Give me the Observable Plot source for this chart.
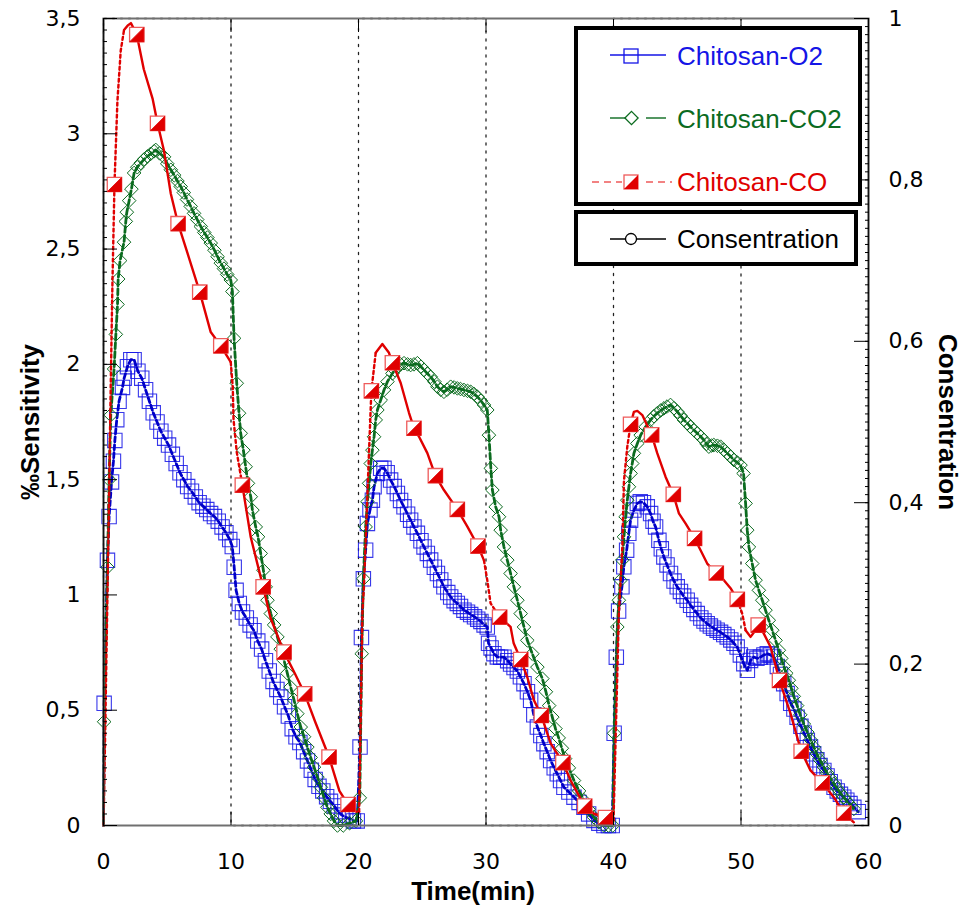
<!DOCTYPE html>
<html><head><meta charset="utf-8">
<script src="https://cdn.jsdelivr.net/npm/d3@7"></script>
<script src="https://cdn.jsdelivr.net/npm/@observablehq/plot@0.6"></script>
<style>
body{margin:0;background:#fff;}
#wrap{position:relative;width:970px;height:905px;overflow:hidden;}
#overlay{position:absolute;left:0;top:0;pointer-events:none;}
</style></head>
<body><div id="wrap"></div>
<script>
// ---------------- data ----------------
const xTickValues = [0, 10, 20, 30, 40, 50, 60];
const sensTickValues = [0, 0.5, 1, 1.5, 2, 2.5, 3, 3.5];
const concTickValues = [0, 0.2, 0.4, 0.6, 0.8, 1];
const seriesNames = ["Chitosan-O2", "Chitosan-CO2", "Chitosan-CO", "Consentration"];

// Concentration square wave (right axis)
const concTime  = [0, 0, 10, 10, 20, 20, 30, 30, 40, 40, 50, 50, 60];
const concValue = [0, 1, 1, 0, 0, 1, 1, 0, 0, 1, 1, 0, 0];

// Chitosan-O2 [time(min), sensitivity]
const o2Cycle1 = [[0,0],[0.05,0.53],[0.31,1.15],[0.44,1.34],[0.63,1.49],[0.78,1.58],[0.89,1.67],[1.04,1.76],[1.22,1.84],[1.49,1.9],[1.62,1.94],[1.88,1.99],[2.14,2.02],[2.4,2.02],[2.7,1.97],[3.0,1.94],[3.3,1.89],[3.6,1.84],[3.9,1.79],[4.2,1.75],[4.5,1.71],[4.8,1.68],[5.1,1.65],[5.4,1.61],[5.7,1.57],[6.0,1.53],[6.3,1.5],[6.6,1.47],[6.9,1.45],[7.2,1.425],[7.5,1.4],[7.8,1.385],[8.1,1.37],[8.4,1.353],[8.7,1.34],[9.0,1.32],[9.3,1.295],[9.6,1.27],[9.9,1.24],[10.1,1.21],[10.25,1.12],[10.4,1.02],[10.65,0.963],[10.9,0.926],[11.2,0.9],[11.5,0.87],[11.8,0.845],[12.1,0.8],[12.4,0.765],[12.7,0.715],[13.0,0.67],[13.3,0.625],[13.6,0.59],[13.9,0.557],[14.2,0.515],[14.5,0.475],[14.8,0.42],[15.1,0.385],[15.4,0.36],[15.7,0.32],[16.0,0.28],[16.3,0.24],[16.6,0.2],[16.9,0.17],[17.2,0.15],[17.5,0.125],[17.8,0.105],[18.1,0.085],[18.4,0.06],[18.7,0.045],[19.0,0.035],[19.3,0.03],[19.6,0.02],[19.9,0.02]];
const o2Cycle2 = [[20.12,0.34],[20.23,0.815],[20.38,1.07],[20.56,1.194],[20.7,1.31],[20.9,1.368],[21.09,1.411],[21.22,1.469],[21.48,1.527],[21.74,1.549],[22.0,1.549],[22.25,1.53],[22.52,1.498],[22.8,1.47],[23.05,1.44],[23.3,1.41],[23.57,1.382],[23.85,1.35],[24.09,1.324],[24.35,1.295],[24.62,1.267],[24.9,1.235],[25.14,1.208],[25.4,1.18],[25.66,1.151],[25.95,1.12],[26.19,1.093],[26.45,1.065],[26.7,1.035],[27.0,1.01],[27.23,0.991],[27.5,0.975],[27.75,0.963],[28.0,0.95],[28.27,0.934],[28.55,0.925],[28.8,0.915],[29.1,0.905],[29.35,0.895],[29.6,0.885],[29.85,0.87],[30.1,0.861],[30.2,0.79],[30.4,0.77],[30.62,0.745],[30.89,0.731],[31.15,0.73],[31.41,0.73],[31.7,0.715],[31.93,0.7],[32.2,0.685],[32.46,0.67],[32.7,0.645],[32.98,0.615],[33.25,0.58],[33.5,0.543],[33.75,0.48],[34.03,0.427],[34.3,0.39],[34.54,0.355],[34.8,0.32],[35.07,0.282],[35.35,0.25],[35.59,0.224],[35.85,0.195],[36.11,0.166],[36.5,0.145],[36.9,0.123],[37.3,0.1],[37.68,0.079],[38.05,0.05],[38.46,0.022],[38.85,0.01],[39.25,0.0],[39.6,0.0],[39.9,0.0]];
const o2Cycle3 = [[40.05,0.4],[40.22,0.73],[40.4,0.93],[40.66,1.035],[40.81,1.122],[41.03,1.194],[41.2,1.267],[41.34,1.324],[41.6,1.368],[41.87,1.397],[42.1,1.404],[42.35,1.4],[42.65,1.382],[42.91,1.353],[43.1,1.32],[43.3,1.295],[43.56,1.237],[43.75,1.2],[43.95,1.165],[44.2,1.13],[44.47,1.093],[44.75,1.06],[45.0,1.035],[45.25,1.015],[45.5,0.995],[45.78,0.977],[46.05,0.955],[46.3,0.937],[46.57,0.919],[46.85,0.9],[47.1,0.887],[47.35,0.875],[47.6,0.865],[47.85,0.856],[48.13,0.847],[48.4,0.838],[48.65,0.828],[48.92,0.818],[49.2,0.805],[49.45,0.79],[49.7,0.774],[49.95,0.74],[50.22,0.702],[50.5,0.673],[50.75,0.716],[51.0,0.731],[51.25,0.725],[51.52,0.73],[51.8,0.74],[52.06,0.745],[52.3,0.74],[52.56,0.731],[52.85,0.69],[53.1,0.655],[53.35,0.615],[53.62,0.572],[53.9,0.53],[54.15,0.505],[54.4,0.47],[54.7,0.43],[54.95,0.4],[55.2,0.369],[55.45,0.34],[55.7,0.311],[55.95,0.285],[56.2,0.26],[56.5,0.239],[56.75,0.215],[57.0,0.19],[57.3,0.166],[57.55,0.15],[57.8,0.135],[58.06,0.123],[58.3,0.11],[58.55,0.095],[58.85,0.079],[59.2,0.06]];

// Chitosan-CO2
const co2Cycle1 = [[0,0],[0.05,0.45],[0.31,1.12],[0.44,1.5],[0.57,1.78],[0.83,1.98],[0.97,2.13],[1.1,2.26],[1.15,2.37],[1.3,2.45],[1.61,2.53],[1.75,2.62],[1.83,2.66],[2.01,2.71],[2.19,2.76],[2.4,2.83],[2.65,2.855],[2.92,2.873],[3.2,2.89],[3.45,2.902],[3.7,2.913],[3.97,2.924],[4.1,2.93],[4.4,2.915],[4.75,2.9],[5.0,2.87],[5.28,2.844],[5.55,2.82],[5.8,2.795],[6.06,2.771],[6.3,2.745],[6.55,2.715],[6.84,2.685],[7.1,2.655],[7.35,2.628],[7.63,2.598],[7.9,2.572],[8.15,2.55],[8.41,2.526],[8.7,2.495],[8.95,2.467],[9.2,2.439],[9.45,2.415],[9.7,2.39],[9.98,2.366],[10.11,2.316],[10.24,2.113],[10.45,1.918],[10.63,1.788],[10.76,1.701],[10.97,1.628],[11.15,1.556],[11.33,1.484],[11.55,1.426],[11.68,1.368],[11.94,1.295],[12.12,1.252],[12.33,1.18],[12.54,1.107],[12.72,1.035],[12.86,0.977],[13.12,0.919],[13.38,0.87],[13.64,0.818],[13.9,0.765],[14.16,0.716],[14.42,0.66],[14.68,0.6],[14.94,0.545],[15.2,0.485],[15.47,0.427],[15.73,0.385],[15.99,0.34],[16.25,0.295],[16.51,0.253],[16.78,0.21],[17.04,0.166],[17.3,0.12],[17.56,0.079],[17.82,0.05],[18.08,0.02],[18.35,0.0],[18.8,0.0],[19.3,0.01],[19.8,0.02]];
const co2Cycle2 = [[20.1,0.12],[20.25,0.745],[20.38,1.07],[20.56,1.295],[20.7,1.404],[20.83,1.484],[20.96,1.57],[21.09,1.628],[21.22,1.686],[21.35,1.759],[21.48,1.802],[21.74,1.845],[22.0,1.889],[22.27,1.925],[22.66,1.961],[22.85,1.975],[23.05,1.99],[23.3,2.0],[23.57,2.005],[23.85,2.0],[24.09,1.997],[24.35,2.0],[24.62,2.005],[24.9,1.99],[25.14,1.976],[25.4,1.96],[25.66,1.946],[25.95,1.925],[26.19,1.903],[26.45,1.89],[26.7,1.881],[26.95,1.89],[27.23,1.903],[27.5,1.9],[27.75,1.896],[28.0,1.893],[28.27,1.889],[28.55,1.885],[28.8,1.881],[29.05,1.872],[29.32,1.86],[29.6,1.842],[29.84,1.824],[30.1,1.802],[30.23,1.693],[30.38,1.549],[30.5,1.455],[30.76,1.382],[31.02,1.339],[31.15,1.281],[31.41,1.208],[31.67,1.151],[31.93,1.093],[32.19,1.035],[32.46,0.977],[32.72,0.919],[32.98,0.861],[33.24,0.803],[33.63,0.745],[34.03,0.687],[34.42,0.637],[34.7,0.58],[34.95,0.52],[35.2,0.47],[35.45,0.42],[35.7,0.38],[35.95,0.335],[36.2,0.29],[36.5,0.25],[36.9,0.195],[37.3,0.15],[37.68,0.109],[38.05,0.07],[38.46,0.036],[38.85,0.015],[39.25,0.0],[39.6,0.0],[39.95,0.0]];
const co2Cycle3 = [[40.05,0.4],[40.3,0.861],[40.42,0.977],[40.55,1.064],[40.69,1.151],[40.82,1.252],[40.95,1.339],[41.08,1.411],[41.21,1.469],[41.34,1.527],[41.47,1.57],[41.6,1.614],[41.87,1.657],[42.13,1.693],[42.52,1.729],[42.91,1.759],[43.17,1.775],[43.43,1.788],[43.7,1.8],[43.95,1.809],[44.2,1.817],[44.47,1.824],[44.75,1.81],[45.0,1.795],[45.25,1.778],[45.52,1.759],[45.8,1.744],[46.04,1.729],[46.3,1.715],[46.57,1.701],[46.85,1.686],[47.09,1.672],[47.3,1.655],[47.48,1.643],[47.7,1.648],[47.87,1.65],[48.15,1.647],[48.4,1.643],[48.65,1.63],[48.92,1.614],[49.2,1.6],[49.44,1.585],[49.7,1.575],[49.96,1.563],[50.2,1.527],[50.36,1.397],[50.49,1.281],[50.62,1.208],[50.88,1.136],[51.14,1.064],[51.4,1.02],[51.67,0.977],[51.92,0.934],[52.18,0.89],[52.45,0.847],[52.71,0.803],[52.97,0.76],[53.16,0.725],[53.36,0.69],[53.55,0.66],[53.75,0.63],[53.95,0.595],[54.14,0.56],[54.4,0.52],[54.65,0.48],[54.93,0.44],[55.2,0.405],[55.45,0.372],[55.71,0.34],[55.95,0.31],[56.2,0.283],[56.5,0.253],[56.75,0.228],[57.0,0.205],[57.28,0.181],[57.55,0.16],[57.8,0.14],[58.06,0.123],[58.3,0.105],[58.55,0.09],[58.85,0.072]];

// Chitosan-CO
const coCycle1 = [[0,0],[0.1,0.3],[0.25,0.8],[0.4,1.3],[0.55,1.85],[0.7,2.35],[0.86,2.78],[1.09,3.14],[1.35,3.36],[1.61,3.45],[1.9,3.47],[2.15,3.48],[2.61,3.43],[3.16,3.28],[3.86,3.15],[4.24,3.045],[4.73,2.93],[5.28,2.74],[5.85,2.61],[6.6,2.48],[7.55,2.313],[8.41,2.14],[9.2,2.08],[9.98,2.01],[10.14,1.9],[10.2,1.76],[10.45,1.62],[10.89,1.476],[11.55,1.25],[12.52,1.035],[13.1,0.9],[14.16,0.752],[15.0,0.66],[15.78,0.571],[16.6,0.45],[17.69,0.297],[18.5,0.15],[19.18,0.091],[19.8,0.06]];
const coCycle2 = [[20.05,0.06],[20.31,0.93],[20.43,1.035],[20.82,1.615],[21.01,1.885],[21.35,2.05],[21.87,2.088],[22.39,2.05],[22.66,2.007],[23.31,1.919],[23.96,1.79],[24.35,1.723],[24.74,1.687],[25.4,1.615],[26.03,1.517],[26.7,1.455],[27.75,1.371],[28.54,1.296],[29.37,1.212],[29.84,1.15],[30.1,1.064],[30.36,0.964],[31.07,0.904],[31.93,0.861],[32.17,0.79],[32.72,0.72],[33.24,0.643],[33.76,0.543],[34.34,0.477],[35.07,0.356],[36.03,0.273],[36.64,0.195],[37.74,0.084],[38.46,0.051],[39.37,0.034],[40.0,0.022]];
const coCycle3 = [[40.3,0.66],[40.42,0.917],[40.69,1.205],[40.82,1.494],[41.08,1.642],[41.34,1.74],[41.6,1.794],[41.87,1.798],[42.26,1.78],[42.99,1.694],[43.43,1.615],[44.08,1.513],[44.69,1.436],[45.13,1.354],[45.66,1.309],[46.36,1.245],[46.83,1.194],[47.35,1.136],[48.06,1.095],[48.66,1.064],[49.18,1.029],[49.71,0.981],[50.1,0.918],[50.36,0.847],[50.75,0.818],[51.14,0.847],[51.35,0.869],[51.79,0.832],[52.32,0.774],[53.02,0.629],[53.88,0.486],[54.72,0.322],[55.45,0.239],[56.37,0.185],[57.28,0.123],[58.06,0.054],[58.85,0.014]];
// times of the CO points that carry a marker
const coMarkerTimes = [0.86,2.61,4.24,5.85,7.55,9.2,10.89,12.52,14.16,15.78,17.69,19.18,21.01,22.66,24.35,26.03,27.75,29.37,31.07,32.72,34.34,36.03,37.74,39.37,41.34,42.99,44.69,46.36,48.06,49.71,51.35,53.02,54.72,56.37,58.06];
// time spans where the CO line is drawn dotted (sparse rise / fall segments)
const coDottedSpans = [[0,1.7],[9.98,10.89],[20,21.35],[29.84,31.07],[40,41.4],[49.71,50.4]];

// ---------------- build ----------------
const CONC_K = 3.5; // right axis 0..1 maps to left axis 0..3.5
const toRows = cycles => cycles.flat().map(([t, v]) => ({t, v}));
const o2 = toRows([o2Cycle1, o2Cycle2, o2Cycle3]);
const co2 = toRows([co2Cycle1, co2Cycle2, co2Cycle3]);
const co = toRows([coCycle1, coCycle2, coCycle3]);
const conc = concTime.map((t, i) => ({t, c: concValue[i]}));
const coMarks = co.filter(d => coMarkerTimes.some(m => Math.abs(m - d.t) < 1e-6));

function splitRuns(points, spans) {
  const runs = [];
  for (let i = 1; i < points.length; i++) {
    const a = points[i - 1], b = points[i];
    const mid = (a.t + b.t) / 2;
    const dotted = spans.some(([s, e]) => mid >= s && mid <= e);
    let run = runs[runs.length - 1];
    if (!run || run.dotted !== dotted) { run = {dotted, pts: [a]}; runs.push(run); }
    run.pts.push(b);
  }
  return runs.flatMap((r, k) => r.pts.map(p => ({...p, run: k, dotted: r.dotted})));
}
const coRuns = splitRuns(co, coDottedSpans);

const fmt = v => String(Math.round(v * 100) / 100).replace(".", ",");

const BLUE = "#1515e6", BLUE_LINE = "#0000c8";
const GREEN = "#0b6b1f", RED = "#e00000", RED_EDGE = "#ee5a5a";

const squareSym = {draw(ctx) { const s = 7.2; ctx.moveTo(-s, -s); ctx.lineTo(s, -s); ctx.lineTo(s, s); ctx.lineTo(-s, s); ctx.closePath(); }};
const diamondSym = {draw(ctx) { const s = 6.8; ctx.moveTo(0, -s); ctx.lineTo(s, 0); ctx.lineTo(0, s); ctx.lineTo(-s, 0); ctx.closePath(); }};
const halfSym = {draw(ctx) { const s = 7; ctx.moveTo(s, -s); ctx.lineTo(s, s); ctx.lineTo(-s, s); ctx.closePath(); }};

const tickFont = "DejaVu Sans";
const titleFont = "Liberation Sans, Arial, sans-serif";

const chart = Plot.plot({
  width: 970, height: 905,
  marginLeft: 103, marginRight: 102, marginTop: 18, marginBottom: 80,
  x: {domain: [0, 60]},
  y: {domain: [0, 3.5]},
  style: {fontFamily: tickFont, fontSize: "22px", background: "white", color: "black"},
  marks: [
    // concentration (dotted square wave on right scale)
    Plot.line(conc, {x: "t", y: d => d.c * CONC_K, stroke: "#222", strokeWidth: 1.3, strokeDasharray: "2,6"}),
    // O2
    Plot.dot(o2.filter(d => d.t > 0), {x: "t", y: "v", symbol: squareSym, r: 1, fill: "none", stroke: BLUE, strokeWidth: 1.1, strokeOpacity: 0.85}),
    Plot.line(o2, {x: "t", y: "v", stroke: BLUE_LINE, strokeWidth: 2.8, strokeDasharray: "5,3"}),
    // CO2
    Plot.dot(co2.filter(d => d.t > 0), {x: "t", y: "v", symbol: diamondSym, r: 1, fill: "none", stroke: GREEN, strokeWidth: 1}),
    Plot.line(co2, {x: "t", y: "v", stroke: GREEN, strokeWidth: 2.8, strokeDasharray: "6,3"}),
    // CO
    Plot.line(coRuns.filter(d => !d.dotted), {x: "t", y: "v", z: "run", stroke: RED, strokeWidth: 2.4}),
    Plot.line(coRuns.filter(d => d.dotted), {x: "t", y: "v", z: "run", stroke: RED, strokeWidth: 2.4, strokeDasharray: "3,3"}),
    Plot.dot(coMarks, {x: "t", y: "v", symbol: squareSym, r: 1, fill: "white", stroke: RED_EDGE, strokeWidth: 1.3}),
    Plot.dot(coMarks, {x: "t", y: "v", symbol: halfSym, r: 1, fill: RED, stroke: RED, strokeWidth: 0.8}),
    // frame
    Plot.frame({stroke: "#707070", strokeWidth: 2}),
    Plot.ruleX([0, 60], {stroke: "#111", strokeWidth: 1.4}),
    // inward ticks
    Plot.axisX({anchor: "bottom", ticks: xTickValues, tickSize: -13, tickFormat: () => "", label: null}),
    Plot.axisX({anchor: "top", ticks: xTickValues, tickSize: -13, tickFormat: () => "", label: null}),
    Plot.axisY({anchor: "left", ticks: sensTickValues, tickSize: -14, tickFormat: () => "", label: null}),
    Plot.axisY({anchor: "left", ticks: d3.range(0, 3.5001, 0.05), tickSize: -4, tickFormat: () => "", label: null}),
    Plot.axisY({anchor: "right", ticks: concTickValues.map(c => c * CONC_K), tickSize: -15, tickFormat: () => "", label: null}),
    Plot.axisY({anchor: "right", ticks: d3.range(0, 101).map(i => i / 100 * CONC_K), tickSize: -4, tickFormat: () => "", label: null}),
    // tick labels
    Plot.axisX({anchor: "bottom", ticks: xTickValues, tickSize: 0, tickPadding: 28, tickFormat: d => String(d), fontSize: 22, label: null}),
    Plot.axisY({anchor: "left", ticks: sensTickValues, tickSize: 0, tickPadding: 23, tickFormat: fmt, fontSize: 22, label: null}),
    Plot.axisY({anchor: "right", ticks: concTickValues.map(c => c * CONC_K), tickSize: 0, tickPadding: 20, tickFormat: d => fmt(d / CONC_K), fontSize: 22, label: null}),
    // axis titles
    Plot.text(["‰Sensitivity"], {text: d => d, frameAnchor: "left", dx: -73, rotate: -90, textAnchor: "middle", lineAnchor: "middle", fontSize: 26, fontWeight: "bold", fontFamily: titleFont}),
    Plot.text(["Consentration"], {text: d => d, frameAnchor: "right", dx: 79, rotate: 90, textAnchor: "middle", lineAnchor: "middle", fontSize: 26, fontWeight: "bold", fontFamily: titleFont}),
    Plot.text(["Time(min)"], {text: d => d, frameAnchor: "bottom", dx: -13, dy: 66, textAnchor: "middle", lineAnchor: "middle", fontSize: 26, fontWeight: "bold", fontFamily: titleFont})
  ]
});
const wrap = document.getElementById("wrap");
wrap.appendChild(chart);

// ---------------- legend overlay ----------------
const ns = "http://www.w3.org/2000/svg";
const ov = document.createElementNS(ns, "svg");
ov.setAttribute("id", "overlay");
ov.setAttribute("width", 970); ov.setAttribute("height", 905);
ov.innerHTML = `
  <rect x="576" y="28" width="284" height="176" fill="white" stroke="black" stroke-width="4"/>
  <rect x="576" y="212" width="280" height="52" fill="white" stroke="black" stroke-width="4"/>
  <g>
    <line x1="610" y1="55" x2="666" y2="55" stroke="${BLUE}" stroke-width="1.4"/>
    <rect x="624" y="49" width="14" height="14" fill="none" stroke="${BLUE}" stroke-width="1.3"/>
    <line x1="610" y1="118" x2="626" y2="118" stroke="${GREEN}" stroke-width="1.4"/>
    <line x1="646" y1="118" x2="666" y2="118" stroke="${GREEN}" stroke-width="1.4"/>
    <path d="M631.5,111.4L638.1,118L631.5,124.6L624.9,118Z" fill="none" stroke="${GREEN}" stroke-width="1.3"/>
    <line x1="592" y1="182" x2="622" y2="182" stroke="${RED_EDGE}" stroke-width="1.4" stroke-dasharray="7,5"/>
    <line x1="646" y1="182" x2="672" y2="182" stroke="${RED_EDGE}" stroke-width="1.4" stroke-dasharray="7,5"/>
    <rect x="624" y="175" width="14" height="14" fill="white" stroke="${RED_EDGE}" stroke-width="1.3"/>
    <path d="M638,175L638,189L624,189Z" fill="${RED}"/>
    <line x1="610" y1="239" x2="666" y2="239" stroke="black" stroke-width="1.3"/>
    <circle cx="631" cy="239" r="5.5" fill="white" stroke="black" stroke-width="1.3"/>
  </g>
  <g font-family="Liberation Sans, Arial, sans-serif" font-size="26">
    <text x="677" y="65" fill="${BLUE}">${seriesNames[0]}</text>
    <text x="677" y="128" fill="${GREEN}">${seriesNames[1]}</text>
    <text x="677" y="191" fill="${RED}">${seriesNames[2]}</text>
    <text x="677" y="248" fill="black">${seriesNames[3]}</text>
  </g>`;
wrap.appendChild(ov);
</script>
</body></html>
